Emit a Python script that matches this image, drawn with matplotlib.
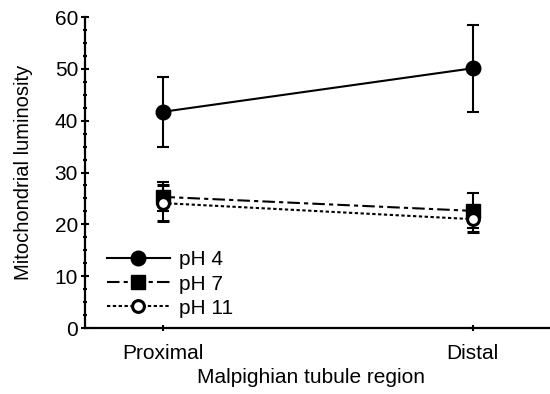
import matplotlib
matplotlib.use("Agg")
import matplotlib.pyplot as plt
from matplotlib.lines import Line2D
from matplotlib.ticker import MultipleLocator

# ----------------------------
# Data
# ----------------------------
regions = ["Proximal", "Distal"]

ph4_mean = [41.7, 50.1]
ph4_err = [6.8, 8.4]

ph7_mean = [25.3, 22.6]
ph7_err = [2.8, 3.4]

ph11_mean = [24.1, 21.0]
ph11_err = [3.5, 2.4]

plt.rcParams["font.family"] = ["Liberation Sans", "DejaVu Sans"]
plt.rcParams["font.size"] = 15

# ----------------------------
# Styles
# ----------------------------
styles = {
    "pH 4": dict(marker="o", linestyle="-", markersize=10.5,
                 markerfacecolor="black"),
    "pH 7": dict(marker="s", linestyle=(0, (6, 2, 2, 2)), markersize=9.5,
                 markerfacecolor="black"),
    "pH 11": dict(marker="o", linestyle=(0, (1.6, 1.2)), markersize=8.5,
                  markerfacecolor="white", markeredgewidth=2.2),
}

# ----------------------------
# Plot
# ----------------------------
fig = plt.figure(figsize=(5.5, 3.94), dpi=100)
ax = fig.add_axes([85 / 550, 1 - 328 / 394, 1 - 85 / 550, (328 - 17) / 394])

x = range(len(regions))
common = dict(color="black", linewidth=1.5, elinewidth=1.5,
              capsize=4.5, capthick=1.5, clip_on=False)

ax.errorbar(x, ph4_mean, yerr=ph4_err, zorder=3, **styles["pH 4"], **common)
ax.errorbar(x, ph7_mean, yerr=ph7_err, zorder=3, **styles["pH 7"], **common)
ax.errorbar(x, ph11_mean, yerr=ph11_err, zorder=4, **styles["pH 11"], **common)

ax.set_xlim(-0.25, 1.25)
ax.set_ylim(0, 60)
ax.set_xticks(list(x))
ax.set_xticklabels(regions)
ax.yaxis.set_major_locator(MultipleLocator(10))
ax.yaxis.set_minor_locator(MultipleLocator(2.5))

ax.spines["top"].set_visible(False)
ax.spines["right"].set_visible(False)
ax.spines["left"].set_linewidth(1.6)
ax.spines["bottom"].set_linewidth(1.6)

ax.tick_params(axis="y", which="major", direction="inout", length=6, width=1.5, pad=2)
ax.tick_params(axis="y", which="minor", direction="inout", length=3.5, width=1.5)
ax.tick_params(axis="x", which="major", direction="inout", length=5, width=1.5, pad=9)

ax.set_xlabel("Malpighian tubule region", fontsize=15)
ax.set_ylabel("Mitochondrial luminosity", fontsize=14.5)
ax.xaxis.set_label_coords(0.486, -0.128)
ax.yaxis.set_label_coords(-0.112, 0.5)

handles = [Line2D([], [], color="black", linewidth=1.5, **styles[k]) for k in styles]
leg = ax.legend(handles, list(styles), loc="center left",
                bbox_to_anchor=(107 / 550, 1 - 284 / 394),
                bbox_transform=fig.transFigure, frameon=False,
                handlelength=3.0, handletextpad=0.45, labelspacing=0.25,
                borderpad=0, borderaxespad=0)

plt.savefig("out.png", dpi=100)
plt.close()
